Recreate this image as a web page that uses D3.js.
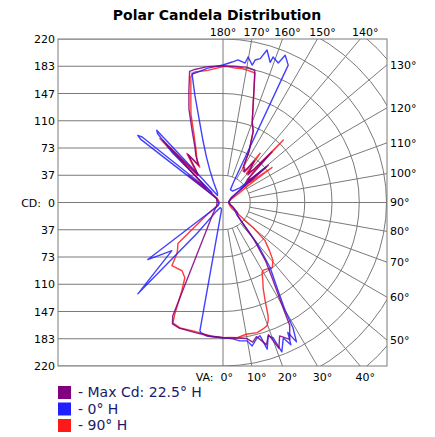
<!DOCTYPE html>
<html>
<head>
<meta charset="utf-8">
<script src="https://cdn.jsdelivr.net/npm/d3@7"></script>
<style>
  body { margin: 0; background: #fff; }
  text { font-family: "DejaVu Sans", Verdana, sans-serif; }
</style>
</head>
<body>
<svg id="chart" width="435" height="437"></svg>
<script>
// ---- Chart text ----
const chartTitle = "Polar Candela Distribution";
const cdMax = 220;
const cdTickLabels = ["37", "73", "110", "147", "183", "220"];
const vaRightLabels = [130, 120, 110, 100, 90, 80, 70, 60, 50];
const vaTopLabels = [180, 170, 160, 150, 140];
const vaBottomLabels = [0, 10, 20, 30, 40];
const legendLabels = ["- Max Cd: 22.5° H", "- 0° H", "- 90° H"];
const seriesColors = ["#800080", "#2020ff", "#ff1a1a"];

// ---- Candela values: [vertical angle (deg), candela] ----
// "Right" = plane on the right half, "Left" = opposite plane.
const maxRight = [[0,182],[5,183],[10,186],[12,192],[14,186],[17,200],[19,188],[21,210],[23,195],[26,205],[28.5,188],[30,158],[33,122],[36,98],[40,64],[44,36],[48,27],[55,24],[65,15],[75,10],[90,8],[110,10],[120,15],[126,30],[129.4,79],[131,40],[133,45],[136,95],[138,50],[141,60],[143,70],[145,50],[148,55],[150,55],[153,77],[157,104],[160,115],[163,139],[165,162],[166.5,183],[170,185],[175,184],[180,184]];
const maxLeft = [[0,182],[5,181],[12,179],[19,179],[22.6,177],[23.9,167],[42,20],[60,10],[90,8],[120,10],[126,20],[128,60],[130,30],[133,40],[136,116],[138,50],[141,60],[144,80],[147,60],[150,73],[153,83],[157,107],[160,134],[163,157],[165.7,182],[168,183],[173.5,184],[180,184]];

const h0Right = [[0,182],[4,184],[7,187.6],[9.9,189],[11.5,197],[14.1,188],[15.5,186],[16.8,206],[18.7,189.5],[20.3,194],[21.5,216],[24,199.5],[25.5,212],[26.5,195.5],[27.8,212],[29.2,193],[29.9,168],[32,140],[35.9,108],[39.7,72],[43.6,39],[48,25],[55,20],[65,15],[75,10],[90,8],[100,8],[110,10],[120,12],[125,20],[128,40],[129.4,75],[131,30],[140,20],[150,20],[152.5,30],[154.6,204.6],[157.1,215],[158.4,202],[161,207],[161.4,199],[163.9,213.6],[165.5,200],[167.3,196.5],[168,189],[170.2,198.7],[171,190],[174,193],[176.3,189.4],[180,185]];
const h0Left = [[0,182],[6.9,181],[9.5,178],[10.2,175.6],[11.5,10],[20,8],[30,8],[37,15],[40,54.6],[43,168],[46.7,94.5],[52.8,127],[57,8],[70,6],[90,6],[110,8],[124,10],[127.5,140],[128.2,146],[129,140],[132,20],[134.5,95],[136.5,128],[137.5,132],[139,40],[142,12],[150,15],[155,30],[157.9,47],[160,65],[162.1,88],[165.3,149],[166.5,179],[167.8,178],[173.6,182],[180,185]];

const h90Right = [[0,182],[3,182],[6,183],[10,180],[14.7,181],[18,178],[19.7,176],[21,170],[21.7,164],[23.2,144],[25,128],[27,118],[29.1,108],[30.5,106],[33,107],[37,110],[40.8,103],[44,90],[47.9,76],[50.2,53],[52,30],[56,15],[66,10],[80,8],[90,8],[100,8],[110,10],[115,15],[120,25],[124,40],[125.5,81],[127,45],[130,50],[133,45],[135.5,60],[136,117],[137,60],[139,55],[141,50],[143,83],[144.5,55],[147,50],[150,54],[153,77],[157,104],[160,115],[163,139],[165,162],[166.1,179.5],[169.3,181],[172,182],[174.9,181.6],[178,183],[180,183]];
const h90Left = [[0,182],[5.6,180],[13.2,177.5],[19,178.5],[22.6,175.5],[23.4,163],[25,131],[26.9,113.5],[31.1,107],[35,108],[39,109.4],[42,92.7],[44,88],[47.7,82],[48.5,61],[52,30],[60,10],[70,6],[90,5],[110,6],[125,10],[130,20],[133,40],[135.4,121],[137,50],[140,60],[143.7,82],[146.7,57],[148,66],[153,80],[157,100],[160,126],[163,148],[165.7,175],[167.8,179.6],[173.5,179],[180,183]];

const series = [
  { right: maxRight, left: maxLeft, color: seriesColors[0] },
  { right: h0Right, left: h0Left, color: seriesColors[1] },
  { right: h90Right, left: h90Left, color: seriesColors[2] }
];
// Paint order: 90° H first, then 0° H, with the max-candela plane on top
const paintOrder = [series[2], series[1], series[0]];

// ---- Layout ----
const svg = d3.select("#chart");
const box = { left: 58, right: 387, top: 39, bottom: 366 };
const cx = 223, cy = 202.5, R = 163.5;
const gridColor = "#7a7a7a";

const rScale = d3.scaleLinear().domain([0, cdMax]).range([0, R]);
const yScale = d3.scaleLinear().domain([-cdMax, cdMax]).range([cy + R, cy - R]);
const tickStep = cdMax / cdTickLabels.length;
const tickValues = cdTickLabels.map((_, i) => tickStep * (i + 1));

// Title
svg.append("text")
  .attr("x", 217).attr("y", 20)
  .attr("text-anchor", "middle")
  .attr("font-size", 14).attr("font-weight", "bold")
  .attr("fill", "#000")
  .text(chartTitle);

svg.append("clipPath").attr("id", "boxClip")
  .append("rect")
  .attr("x", box.left).attr("y", box.top)
  .attr("width", box.right - box.left).attr("height", box.bottom - box.top);

const grid = svg.append("g").attr("clip-path", "url(#boxClip)")
  .attr("fill", "none").attr("stroke", gridColor).attr("stroke-width", 1);

// Left half: horizontal candela lines
const hVals = [0].concat(tickValues, tickValues.map(v => -v));
grid.selectAll("line.h").data(hVals).join("line")
  .attr("x1", box.left).attr("x2", d => d === 0 ? box.right : cx)
  .attr("y1", d => yScale(d)).attr("y2", d => yScale(d));

// Right half: candela arcs (continue past 220 into the corners)
const arcVals = d3.range(1, 9).map(i => tickStep * i);
grid.selectAll("path.arc").data(arcVals).join("path")
  .attr("d", v => {
    const p = d3.path();
    const rr = rScale(v);
    p.moveTo(cx, cy - rr);
    p.arc(cx, cy, rr, -Math.PI / 2, Math.PI / 2);
    return p.toString();
  });

// Right half: vertical-angle radial lines every 10 degrees
const radialAngles = d3.range(0, 181, 10);
grid.selectAll("line.rad").data(radialAngles).join("line")
  .attr("x1", a => {
    const r0 = (a % 90 === 0) ? 0 : rScale(tickStep);
    return cx + r0 * Math.sin(a * Math.PI / 180);
  })
  .attr("y1", a => {
    const r0 = (a % 90 === 0) ? 0 : rScale(tickStep);
    return cy + r0 * Math.cos(a * Math.PI / 180);
  })
  .attr("x2", a => cx + 400 * Math.sin(a * Math.PI / 180))
  .attr("y2", a => cy + 400 * Math.cos(a * Math.PI / 180));

// Frame
svg.append("rect")
  .attr("x", box.left).attr("y", box.top)
  .attr("width", box.right - box.left).attr("height", box.bottom - box.top)
  .attr("fill", "none").attr("stroke", gridColor);

// Left candela axis labels
const axisVals = [0].concat(tickValues, tickValues.map(v => -v));
const axis = d3.axisLeft(yScale)
  .tickValues(axisVals)
  .tickSize(0)
  .tickPadding(3)
  .tickFormat(v => v === 0 ? "CD:  0" : cdTickLabels[Math.round(Math.abs(v) / tickStep) - 1]);
const axG = svg.append("g").attr("transform", `translate(${box.left},0)`).call(axis);
axG.select(".domain").remove();
axG.selectAll("text")
  .attr("font-size", 11)
  .attr("font-family", "DejaVu Sans, Verdana, sans-serif")
  .attr("fill", "#000")
  .style("white-space", "pre");

// Angle labels
const deg = a => a * Math.PI / 180;
const labelG = svg.append("g").attr("font-size", 11).attr("fill", "#000");
labelG.selectAll("text.r").data(vaRightLabels).join("text")
  .attr("x", box.right + 3)
  .attr("y", a => cy + (box.right - cx) / Math.tan(deg(a)))
  .attr("dy", "0.35em")
  .text(a => a + "°");
labelG.selectAll("text.t").data(vaTopLabels).join("text")
  .attr("x", a => a === 180 ? cx : cx + (cy - box.top) * Math.tan(deg(180 - a)) + 5)
  .attr("y", 36)
  .attr("text-anchor", "middle")
  .text(a => a + "°");
labelG.selectAll("text.b").data(vaBottomLabels).join("text")
  .attr("x", a => a === 0 ? cx + 10 : cx + (box.bottom - cy) * Math.tan(deg(a)) + 5)
  .attr("y", 381)
  .attr("text-anchor", a => a === 0 ? "end" : "middle")
  .style("white-space", "pre")
  .text(a => a === 0 ? "VA:  0°" : a + "°");

// Candela curves
const radial = d3.lineRadial()
  .angle(d => d.a)
  .radius(d => rScale(d.cd))
  .curve(d3.curveLinearClosed);

function toPoints(s) {
  const right = s.right.map(([va, cd]) => ({ a: Math.PI - deg(va), cd }));
  const left = s.left.slice().reverse().map(([va, cd]) => ({ a: Math.PI + deg(va), cd }));
  return right.concat(left);
}

const curveG = svg.append("g")
  .attr("transform", `translate(${cx},${cy})`);
curveG.selectAll("path").data(paintOrder).join("path")
  .attr("d", s => radial(toPoints(s)))
  .attr("fill", "none")
  .attr("stroke", s => s.color)
  .attr("stroke-width", 1.4)
  .attr("stroke-opacity", 0.85)
  .attr("stroke-linejoin", "round");

// Legend
const legend = svg.append("g");
legendLabels.forEach((lab, i) => {
  const y = 386 + i * 16.5;
  legend.append("rect")
    .attr("x", 58).attr("y", y)
    .attr("width", 13).attr("height", 13)
    .attr("fill", seriesColors[i]);
  legend.append("text")
    .attr("x", 78).attr("y", y + 11)
    .attr("font-size", 14)
    .attr("fill", "#1a1a6a")
    .text(lab);
});
</script>
</body>
</html>
